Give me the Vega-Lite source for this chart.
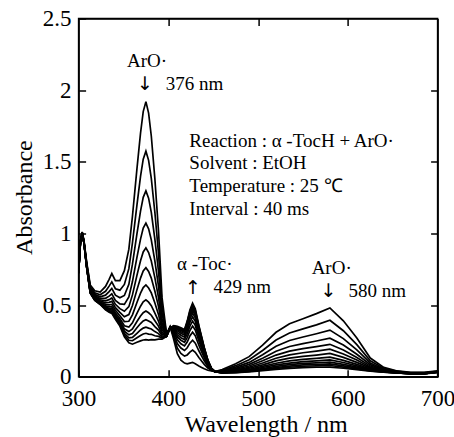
{
"$schema":"https://vega.github.io/schema/vega-lite/v6.json",
"width":359,"height":358.2,
"autosize":{"type":"none"},
"padding":{"left":78.6,"top":18.5,"right":16.4,"bottom":60.3},
"background":"white",
"config":{"view":{"stroke":"black","strokeWidth":1.5},"font":"Liberation Serif","text":{"font":"Liberation Serif","color":"black"}},
"datasets":{
"spectra":[
{"w":300,"t":0,"a":0.75},{"w":300,"t":1,"a":0.744},{"w":300,"t":2,"a":0.739},{"w":300,"t":3,"a":0.735},{"w":300,"t":4,"a":0.732},{"w":300,"t":5,"a":0.73},{"w":300,"t":6,"a":0.728},{"w":300,"t":7,"a":0.726},{"w":300,"t":8,"a":0.725},{"w":300,"t":9,"a":0.724},{"w":300,"t":10,"a":0.723},{"w":300,"t":11,"a":0.722},{"w":300,"t":12,"a":0.721},
{"w":302,"t":0,"a":0.95},{"w":302,"t":1,"a":0.946},{"w":302,"t":2,"a":0.943},{"w":302,"t":3,"a":0.94},{"w":302,"t":4,"a":0.938},{"w":302,"t":5,"a":0.937},{"w":302,"t":6,"a":0.935},{"w":302,"t":7,"a":0.934},{"w":302,"t":8,"a":0.933},{"w":302,"t":9,"a":0.932},{"w":302,"t":10,"a":0.932},{"w":302,"t":11,"a":0.931},{"w":302,"t":12,"a":0.931},
{"w":304,"t":0,"a":1.01},{"w":304,"t":1,"a":1.008},{"w":304,"t":2,"a":1.006},{"w":304,"t":3,"a":1.005},{"w":304,"t":4,"a":1.004},{"w":304,"t":5,"a":1.003},{"w":304,"t":6,"a":1.003},{"w":304,"t":7,"a":1.002},{"w":304,"t":8,"a":1.002},{"w":304,"t":9,"a":1.001},{"w":304,"t":10,"a":1.001},{"w":304,"t":11,"a":1.001},{"w":304,"t":12,"a":1.0},
{"w":306,"t":0,"a":0.95},{"w":306,"t":1,"a":0.946},{"w":306,"t":2,"a":0.943},{"w":306,"t":3,"a":0.94},{"w":306,"t":4,"a":0.938},{"w":306,"t":5,"a":0.937},{"w":306,"t":6,"a":0.935},{"w":306,"t":7,"a":0.934},{"w":306,"t":8,"a":0.933},{"w":306,"t":9,"a":0.932},{"w":306,"t":10,"a":0.932},{"w":306,"t":11,"a":0.931},{"w":306,"t":12,"a":0.931},
{"w":309,"t":0,"a":0.8},{"w":309,"t":1,"a":0.792},{"w":309,"t":2,"a":0.786},{"w":309,"t":3,"a":0.78},{"w":309,"t":4,"a":0.776},{"w":309,"t":5,"a":0.773},{"w":309,"t":6,"a":0.77},{"w":309,"t":7,"a":0.768},{"w":309,"t":8,"a":0.766},{"w":309,"t":9,"a":0.765},{"w":309,"t":10,"a":0.764},{"w":309,"t":11,"a":0.763},{"w":309,"t":12,"a":0.762},
{"w":313,"t":0,"a":0.64},{"w":313,"t":1,"a":0.628},{"w":313,"t":2,"a":0.618},{"w":313,"t":3,"a":0.611},{"w":313,"t":4,"a":0.605},{"w":313,"t":5,"a":0.6},{"w":313,"t":6,"a":0.596},{"w":313,"t":7,"a":0.592},{"w":313,"t":8,"a":0.589},{"w":313,"t":9,"a":0.587},{"w":313,"t":10,"a":0.585},{"w":313,"t":11,"a":0.584},{"w":313,"t":12,"a":0.582},
{"w":318,"t":0,"a":0.6},{"w":318,"t":1,"a":0.586},{"w":318,"t":2,"a":0.575},{"w":318,"t":3,"a":0.566},{"w":318,"t":4,"a":0.559},{"w":318,"t":5,"a":0.553},{"w":318,"t":6,"a":0.548},{"w":318,"t":7,"a":0.544},{"w":318,"t":8,"a":0.541},{"w":318,"t":9,"a":0.538},{"w":318,"t":10,"a":0.536},{"w":318,"t":11,"a":0.535},{"w":318,"t":12,"a":0.533},
{"w":324,"t":0,"a":0.59},{"w":324,"t":1,"a":0.572},{"w":324,"t":2,"a":0.558},{"w":324,"t":3,"a":0.546},{"w":324,"t":4,"a":0.537},{"w":324,"t":5,"a":0.53},{"w":324,"t":6,"a":0.523},{"w":324,"t":7,"a":0.518},{"w":324,"t":8,"a":0.514},{"w":324,"t":9,"a":0.511},{"w":324,"t":10,"a":0.508},{"w":324,"t":11,"a":0.506},{"w":324,"t":12,"a":0.504},
{"w":330,"t":0,"a":0.63},{"w":330,"t":1,"a":0.596},{"w":330,"t":2,"a":0.569},{"w":330,"t":3,"a":0.547},{"w":330,"t":4,"a":0.53},{"w":330,"t":5,"a":0.516},{"w":330,"t":6,"a":0.504},{"w":330,"t":7,"a":0.494},{"w":330,"t":8,"a":0.486},{"w":330,"t":9,"a":0.48},{"w":330,"t":10,"a":0.475},{"w":330,"t":11,"a":0.471},{"w":330,"t":12,"a":0.467},
{"w":334,"t":0,"a":0.68},{"w":334,"t":1,"a":0.632},{"w":334,"t":2,"a":0.594},{"w":334,"t":3,"a":0.562},{"w":334,"t":4,"a":0.538},{"w":334,"t":5,"a":0.519},{"w":334,"t":6,"a":0.502},{"w":334,"t":7,"a":0.488},{"w":334,"t":8,"a":0.477},{"w":334,"t":9,"a":0.469},{"w":334,"t":10,"a":0.462},{"w":334,"t":11,"a":0.456},{"w":334,"t":12,"a":0.45},
{"w":337,"t":0,"a":0.72},{"w":337,"t":1,"a":0.662},{"w":337,"t":2,"a":0.616},{"w":337,"t":3,"a":0.578},{"w":337,"t":4,"a":0.549},{"w":337,"t":5,"a":0.526},{"w":337,"t":6,"a":0.505},{"w":337,"t":7,"a":0.488},{"w":337,"t":8,"a":0.475},{"w":337,"t":9,"a":0.465},{"w":337,"t":10,"a":0.456},{"w":337,"t":11,"a":0.449},{"w":337,"t":12,"a":0.442},
{"w":341,"t":0,"a":0.67},{"w":341,"t":1,"a":0.614},{"w":341,"t":2,"a":0.569},{"w":341,"t":3,"a":0.533},{"w":341,"t":4,"a":0.505},{"w":341,"t":5,"a":0.482},{"w":341,"t":6,"a":0.463},{"w":341,"t":7,"a":0.446},{"w":341,"t":8,"a":0.433},{"w":341,"t":9,"a":0.424},{"w":341,"t":10,"a":0.415},{"w":341,"t":11,"a":0.408},{"w":341,"t":12,"a":0.401},
{"w":346,"t":0,"a":0.67},{"w":346,"t":1,"a":0.604},{"w":346,"t":2,"a":0.551},{"w":346,"t":3,"a":0.508},{"w":346,"t":4,"a":0.475},{"w":346,"t":5,"a":0.449},{"w":346,"t":6,"a":0.426},{"w":346,"t":7,"a":0.406},{"w":346,"t":8,"a":0.391},{"w":346,"t":9,"a":0.38},{"w":346,"t":10,"a":0.37},{"w":346,"t":11,"a":0.362},{"w":346,"t":12,"a":0.353},
{"w":351,"t":0,"a":0.74},{"w":351,"t":1,"a":0.644},{"w":351,"t":2,"a":0.567},{"w":351,"t":3,"a":0.505},{"w":351,"t":4,"a":0.457},{"w":351,"t":5,"a":0.418},{"w":351,"t":6,"a":0.385},{"w":351,"t":7,"a":0.356},{"w":351,"t":8,"a":0.334},{"w":351,"t":9,"a":0.318},{"w":351,"t":10,"a":0.303},{"w":351,"t":11,"a":0.291},{"w":351,"t":12,"a":0.279},
{"w":356,"t":0,"a":0.89},{"w":356,"t":1,"a":0.754},{"w":356,"t":2,"a":0.645},{"w":356,"t":3,"a":0.557},{"w":356,"t":4,"a":0.489},{"w":356,"t":5,"a":0.434},{"w":356,"t":6,"a":0.387},{"w":356,"t":7,"a":0.346},{"w":356,"t":8,"a":0.315},{"w":356,"t":9,"a":0.292},{"w":356,"t":10,"a":0.271},{"w":356,"t":11,"a":0.254},{"w":356,"t":12,"a":0.237},
{"w":360,"t":0,"a":1.12},{"w":360,"t":1,"a":0.934},{"w":360,"t":2,"a":0.785},{"w":360,"t":3,"a":0.664},{"w":360,"t":4,"a":0.571},{"w":360,"t":5,"a":0.497},{"w":360,"t":6,"a":0.432},{"w":360,"t":7,"a":0.376},{"w":360,"t":8,"a":0.334},{"w":360,"t":9,"a":0.302},{"w":360,"t":10,"a":0.274},{"w":360,"t":11,"a":0.251},{"w":360,"t":12,"a":0.227},
{"w":365,"t":0,"a":1.45},{"w":365,"t":1,"a":1.198},{"w":365,"t":2,"a":0.996},{"w":365,"t":3,"a":0.833},{"w":365,"t":4,"a":0.707},{"w":365,"t":5,"a":0.606},{"w":365,"t":6,"a":0.518},{"w":365,"t":7,"a":0.442},{"w":365,"t":8,"a":0.385},{"w":365,"t":9,"a":0.341},{"w":365,"t":10,"a":0.303},{"w":365,"t":11,"a":0.272},{"w":365,"t":12,"a":0.24},
{"w":369,"t":0,"a":1.7},{"w":369,"t":1,"a":1.398},{"w":369,"t":2,"a":1.156},{"w":369,"t":3,"a":0.96},{"w":369,"t":4,"a":0.809},{"w":369,"t":5,"a":0.688},{"w":369,"t":6,"a":0.583},{"w":369,"t":7,"a":0.492},{"w":369,"t":8,"a":0.424},{"w":369,"t":9,"a":0.371},{"w":369,"t":10,"a":0.326},{"w":369,"t":11,"a":0.288},{"w":369,"t":12,"a":0.25},
{"w":372,"t":0,"a":1.85},{"w":372,"t":1,"a":1.518},{"w":372,"t":2,"a":1.252},{"w":372,"t":3,"a":1.037},{"w":372,"t":4,"a":0.871},{"w":372,"t":5,"a":0.738},{"w":372,"t":6,"a":0.622},{"w":372,"t":7,"a":0.522},{"w":372,"t":8,"a":0.447},{"w":372,"t":9,"a":0.389},{"w":372,"t":10,"a":0.339},{"w":372,"t":11,"a":0.298},{"w":372,"t":12,"a":0.256},
{"w":375,"t":0,"a":1.92},{"w":375,"t":1,"a":1.574},{"w":375,"t":2,"a":1.297},{"w":375,"t":3,"a":1.072},{"w":375,"t":4,"a":0.899},{"w":375,"t":5,"a":0.761},{"w":375,"t":6,"a":0.64},{"w":375,"t":7,"a":0.536},{"w":375,"t":8,"a":0.458},{"w":375,"t":9,"a":0.398},{"w":375,"t":10,"a":0.346},{"w":375,"t":11,"a":0.303},{"w":375,"t":12,"a":0.259},
{"w":378,"t":0,"a":1.84},{"w":378,"t":1,"a":1.51},{"w":378,"t":2,"a":1.246},{"w":378,"t":3,"a":1.032},{"w":378,"t":4,"a":0.867},{"w":378,"t":5,"a":0.735},{"w":378,"t":6,"a":0.619},{"w":378,"t":7,"a":0.52},{"w":378,"t":8,"a":0.446},{"w":378,"t":9,"a":0.388},{"w":378,"t":10,"a":0.339},{"w":378,"t":11,"a":0.297},{"w":378,"t":12,"a":0.256},
{"w":381,"t":0,"a":1.68},{"w":381,"t":1,"a":1.384},{"w":381,"t":2,"a":1.147},{"w":381,"t":3,"a":0.955},{"w":381,"t":4,"a":0.807},{"w":381,"t":5,"a":0.688},{"w":381,"t":6,"a":0.585},{"w":381,"t":7,"a":0.496},{"w":381,"t":8,"a":0.429},{"w":381,"t":9,"a":0.378},{"w":381,"t":10,"a":0.333},{"w":381,"t":11,"a":0.296},{"w":381,"t":12,"a":0.259},
{"w":385,"t":0,"a":1.38},{"w":385,"t":1,"a":1.146},{"w":385,"t":2,"a":0.959},{"w":385,"t":3,"a":0.807},{"w":385,"t":4,"a":0.69},{"w":385,"t":5,"a":0.596},{"w":385,"t":6,"a":0.514},{"w":385,"t":7,"a":0.444},{"w":385,"t":8,"a":0.391},{"w":385,"t":9,"a":0.35},{"w":385,"t":10,"a":0.315},{"w":385,"t":11,"a":0.286},{"w":385,"t":12,"a":0.257},
{"w":389,"t":0,"a":1.02},{"w":389,"t":1,"a":0.862},{"w":389,"t":2,"a":0.736},{"w":389,"t":3,"a":0.633},{"w":389,"t":4,"a":0.554},{"w":389,"t":5,"a":0.491},{"w":389,"t":6,"a":0.435},{"w":389,"t":7,"a":0.388},{"w":389,"t":8,"a":0.353},{"w":389,"t":9,"a":0.325},{"w":389,"t":10,"a":0.301},{"w":389,"t":11,"a":0.281},{"w":389,"t":12,"a":0.262},
{"w":393,"t":0,"a":0.55},{"w":393,"t":1,"a":0.49},{"w":393,"t":2,"a":0.442},{"w":393,"t":3,"a":0.403},{"w":393,"t":4,"a":0.373},{"w":393,"t":5,"a":0.349},{"w":393,"t":6,"a":0.328},{"w":393,"t":7,"a":0.31},{"w":393,"t":8,"a":0.297},{"w":393,"t":9,"a":0.286},{"w":393,"t":10,"a":0.277},{"w":393,"t":11,"a":0.27},{"w":393,"t":12,"a":0.262},
{"w":398,"t":0,"a":0.3},{"w":398,"t":1,"a":0.296},{"w":398,"t":2,"a":0.293},{"w":398,"t":3,"a":0.29},{"w":398,"t":4,"a":0.288},{"w":398,"t":5,"a":0.287},{"w":398,"t":6,"a":0.285},{"w":398,"t":7,"a":0.284},{"w":398,"t":8,"a":0.283},{"w":398,"t":9,"a":0.282},{"w":398,"t":10,"a":0.282},{"w":398,"t":11,"a":0.281},{"w":398,"t":12,"a":0.281},
{"w":402,"t":0,"a":0.35},{"w":402,"t":1,"a":0.348},{"w":402,"t":2,"a":0.346},{"w":402,"t":3,"a":0.345},{"w":402,"t":4,"a":0.344},{"w":402,"t":5,"a":0.343},{"w":402,"t":6,"a":0.343},{"w":402,"t":7,"a":0.342},{"w":402,"t":8,"a":0.342},{"w":402,"t":9,"a":0.341},{"w":402,"t":10,"a":0.341},{"w":402,"t":11,"a":0.341},{"w":402,"t":12,"a":0.34},
{"w":406,"t":0,"a":0.26},{"w":406,"t":1,"a":0.28},{"w":406,"t":2,"a":0.296},{"w":406,"t":3,"a":0.309},{"w":406,"t":4,"a":0.319},{"w":406,"t":5,"a":0.327},{"w":406,"t":6,"a":0.334},{"w":406,"t":7,"a":0.34},{"w":406,"t":8,"a":0.345},{"w":406,"t":9,"a":0.348},{"w":406,"t":10,"a":0.351},{"w":406,"t":11,"a":0.354},{"w":406,"t":12,"a":0.356},
{"w":410,"t":0,"a":0.16},{"w":410,"t":1,"a":0.2},{"w":410,"t":2,"a":0.232},{"w":410,"t":3,"a":0.258},{"w":410,"t":4,"a":0.278},{"w":410,"t":5,"a":0.294},{"w":410,"t":6,"a":0.308},{"w":410,"t":7,"a":0.32},{"w":410,"t":8,"a":0.329},{"w":410,"t":9,"a":0.336},{"w":410,"t":10,"a":0.342},{"w":410,"t":11,"a":0.347},{"w":410,"t":12,"a":0.352},
{"w":414,"t":0,"a":0.115},{"w":414,"t":1,"a":0.162},{"w":414,"t":2,"a":0.2},{"w":414,"t":3,"a":0.23},{"w":414,"t":4,"a":0.254},{"w":414,"t":5,"a":0.272},{"w":414,"t":6,"a":0.289},{"w":414,"t":7,"a":0.303},{"w":414,"t":8,"a":0.314},{"w":414,"t":9,"a":0.322},{"w":414,"t":10,"a":0.329},{"w":414,"t":11,"a":0.335},{"w":414,"t":12,"a":0.341},
{"w":418,"t":0,"a":0.095},{"w":418,"t":1,"a":0.144},{"w":418,"t":2,"a":0.183},{"w":418,"t":3,"a":0.215},{"w":418,"t":4,"a":0.24},{"w":418,"t":5,"a":0.259},{"w":418,"t":6,"a":0.276},{"w":418,"t":7,"a":0.291},{"w":418,"t":8,"a":0.302},{"w":418,"t":9,"a":0.311},{"w":418,"t":10,"a":0.318},{"w":418,"t":11,"a":0.324},{"w":418,"t":12,"a":0.33},
{"w":421,"t":0,"a":0.09},{"w":421,"t":1,"a":0.152},{"w":421,"t":2,"a":0.202},{"w":421,"t":3,"a":0.242},{"w":421,"t":4,"a":0.273},{"w":421,"t":5,"a":0.298},{"w":421,"t":6,"a":0.319},{"w":421,"t":7,"a":0.338},{"w":421,"t":8,"a":0.352},{"w":421,"t":9,"a":0.363},{"w":421,"t":10,"a":0.372},{"w":421,"t":11,"a":0.38},{"w":421,"t":12,"a":0.388},
{"w":424,"t":0,"a":0.095},{"w":424,"t":1,"a":0.172},{"w":424,"t":2,"a":0.234},{"w":424,"t":3,"a":0.284},{"w":424,"t":4,"a":0.322},{"w":424,"t":5,"a":0.353},{"w":424,"t":6,"a":0.38},{"w":424,"t":7,"a":0.403},{"w":424,"t":8,"a":0.42},{"w":424,"t":9,"a":0.434},{"w":424,"t":10,"a":0.445},{"w":424,"t":11,"a":0.455},{"w":424,"t":12,"a":0.465},
{"w":427,"t":0,"a":0.1},{"w":427,"t":1,"a":0.186},{"w":427,"t":2,"a":0.255},{"w":427,"t":3,"a":0.311},{"w":427,"t":4,"a":0.354},{"w":427,"t":5,"a":0.388},{"w":427,"t":6,"a":0.418},{"w":427,"t":7,"a":0.444},{"w":427,"t":8,"a":0.463},{"w":427,"t":9,"a":0.478},{"w":427,"t":10,"a":0.491},{"w":427,"t":11,"a":0.502},{"w":427,"t":12,"a":0.513},
{"w":430,"t":0,"a":0.09},{"w":430,"t":1,"a":0.17},{"w":430,"t":2,"a":0.234},{"w":430,"t":3,"a":0.286},{"w":430,"t":4,"a":0.326},{"w":430,"t":5,"a":0.358},{"w":430,"t":6,"a":0.386},{"w":430,"t":7,"a":0.41},{"w":430,"t":8,"a":0.428},{"w":430,"t":9,"a":0.442},{"w":430,"t":10,"a":0.454},{"w":430,"t":11,"a":0.464},{"w":430,"t":12,"a":0.474},
{"w":434,"t":0,"a":0.075},{"w":434,"t":1,"a":0.134},{"w":434,"t":2,"a":0.181},{"w":434,"t":3,"a":0.22},{"w":434,"t":4,"a":0.249},{"w":434,"t":5,"a":0.273},{"w":434,"t":6,"a":0.293},{"w":434,"t":7,"a":0.311},{"w":434,"t":8,"a":0.324},{"w":434,"t":9,"a":0.335},{"w":434,"t":10,"a":0.343},{"w":434,"t":11,"a":0.351},{"w":434,"t":12,"a":0.358},
{"w":437,"t":0,"a":0.065},{"w":437,"t":1,"a":0.11},{"w":437,"t":2,"a":0.146},{"w":437,"t":3,"a":0.175},{"w":437,"t":4,"a":0.198},{"w":437,"t":5,"a":0.216},{"w":437,"t":6,"a":0.232},{"w":437,"t":7,"a":0.245},{"w":437,"t":8,"a":0.255},{"w":437,"t":9,"a":0.263},{"w":437,"t":10,"a":0.27},{"w":437,"t":11,"a":0.275},{"w":437,"t":12,"a":0.281},
{"w":440,"t":0,"a":0.055},{"w":440,"t":1,"a":0.086},{"w":440,"t":2,"a":0.111},{"w":440,"t":3,"a":0.131},{"w":440,"t":4,"a":0.146},{"w":440,"t":5,"a":0.159},{"w":440,"t":6,"a":0.17},{"w":440,"t":7,"a":0.179},{"w":440,"t":8,"a":0.186},{"w":440,"t":9,"a":0.191},{"w":440,"t":10,"a":0.196},{"w":440,"t":11,"a":0.2},{"w":440,"t":12,"a":0.204},
{"w":444,"t":0,"a":0.045},{"w":444,"t":1,"a":0.06},{"w":444,"t":2,"a":0.072},{"w":444,"t":3,"a":0.082},{"w":444,"t":4,"a":0.089},{"w":444,"t":5,"a":0.095},{"w":444,"t":6,"a":0.101},{"w":444,"t":7,"a":0.105},{"w":444,"t":8,"a":0.108},{"w":444,"t":9,"a":0.111},{"w":444,"t":10,"a":0.113},{"w":444,"t":11,"a":0.115},{"w":444,"t":12,"a":0.117},
{"w":448,"t":0,"a":0.04},{"w":448,"t":1,"a":0.044},{"w":448,"t":2,"a":0.047},{"w":448,"t":3,"a":0.05},{"w":448,"t":4,"a":0.052},{"w":448,"t":5,"a":0.053},{"w":448,"t":6,"a":0.055},{"w":448,"t":7,"a":0.056},{"w":448,"t":8,"a":0.057},{"w":448,"t":9,"a":0.058},{"w":448,"t":10,"a":0.058},{"w":448,"t":11,"a":0.059},{"w":448,"t":12,"a":0.059},
{"w":452,"t":0,"a":0.035},{"w":452,"t":1,"a":0.035},{"w":452,"t":2,"a":0.035},{"w":452,"t":3,"a":0.035},{"w":452,"t":4,"a":0.035},{"w":452,"t":5,"a":0.035},{"w":452,"t":6,"a":0.035},{"w":452,"t":7,"a":0.035},{"w":452,"t":8,"a":0.035},{"w":452,"t":9,"a":0.035},{"w":452,"t":10,"a":0.035},{"w":452,"t":11,"a":0.035},{"w":452,"t":12,"a":0.035},
{"w":460,"t":0,"a":0.05},{"w":460,"t":1,"a":0.045},{"w":460,"t":2,"a":0.041},{"w":460,"t":3,"a":0.038},{"w":460,"t":4,"a":0.035},{"w":460,"t":5,"a":0.033},{"w":460,"t":6,"a":0.032},{"w":460,"t":7,"a":0.03},{"w":460,"t":8,"a":0.029},{"w":460,"t":9,"a":0.028},{"w":460,"t":10,"a":0.027},{"w":460,"t":11,"a":0.027},{"w":460,"t":12,"a":0.026},
{"w":475,"t":0,"a":0.09},{"w":475,"t":1,"a":0.077},{"w":475,"t":2,"a":0.067},{"w":475,"t":3,"a":0.058},{"w":475,"t":4,"a":0.052},{"w":475,"t":5,"a":0.047},{"w":475,"t":6,"a":0.042},{"w":475,"t":7,"a":0.038},{"w":475,"t":8,"a":0.035},{"w":475,"t":9,"a":0.033},{"w":475,"t":10,"a":0.031},{"w":475,"t":11,"a":0.029},{"w":475,"t":12,"a":0.028},
{"w":490,"t":0,"a":0.14},{"w":490,"t":1,"a":0.118},{"w":490,"t":2,"a":0.1},{"w":490,"t":3,"a":0.086},{"w":490,"t":4,"a":0.075},{"w":490,"t":5,"a":0.066},{"w":490,"t":6,"a":0.059},{"w":490,"t":7,"a":0.052},{"w":490,"t":8,"a":0.047},{"w":490,"t":9,"a":0.043},{"w":490,"t":10,"a":0.04},{"w":490,"t":11,"a":0.037},{"w":490,"t":12,"a":0.034},
{"w":505,"t":0,"a":0.22},{"w":505,"t":1,"a":0.183},{"w":505,"t":2,"a":0.153},{"w":505,"t":3,"a":0.129},{"w":505,"t":4,"a":0.111},{"w":505,"t":5,"a":0.096},{"w":505,"t":6,"a":0.083},{"w":505,"t":7,"a":0.072},{"w":505,"t":8,"a":0.064},{"w":505,"t":9,"a":0.057},{"w":505,"t":10,"a":0.052},{"w":505,"t":11,"a":0.047},{"w":505,"t":12,"a":0.042},
{"w":520,"t":0,"a":0.31},{"w":520,"t":1,"a":0.256},{"w":520,"t":2,"a":0.213},{"w":520,"t":3,"a":0.178},{"w":520,"t":4,"a":0.151},{"w":520,"t":5,"a":0.129},{"w":520,"t":6,"a":0.11},{"w":520,"t":7,"a":0.094},{"w":520,"t":8,"a":0.082},{"w":520,"t":9,"a":0.072},{"w":520,"t":10,"a":0.064},{"w":520,"t":11,"a":0.058},{"w":520,"t":12,"a":0.051},
{"w":535,"t":0,"a":0.37},{"w":535,"t":1,"a":0.305},{"w":535,"t":2,"a":0.253},{"w":535,"t":3,"a":0.211},{"w":535,"t":4,"a":0.178},{"w":535,"t":5,"a":0.152},{"w":535,"t":6,"a":0.13},{"w":535,"t":7,"a":0.11},{"w":535,"t":8,"a":0.095},{"w":535,"t":9,"a":0.084},{"w":535,"t":10,"a":0.074},{"w":535,"t":11,"a":0.066},{"w":535,"t":12,"a":0.058},
{"w":550,"t":0,"a":0.405},{"w":550,"t":1,"a":0.334},{"w":550,"t":2,"a":0.277},{"w":550,"t":3,"a":0.231},{"w":550,"t":4,"a":0.196},{"w":550,"t":5,"a":0.167},{"w":550,"t":6,"a":0.142},{"w":550,"t":7,"a":0.121},{"w":550,"t":8,"a":0.105},{"w":550,"t":9,"a":0.093},{"w":550,"t":10,"a":0.082},{"w":550,"t":11,"a":0.073},{"w":550,"t":12,"a":0.064},
{"w":565,"t":0,"a":0.44},{"w":565,"t":1,"a":0.362},{"w":565,"t":2,"a":0.3},{"w":565,"t":3,"a":0.249},{"w":565,"t":4,"a":0.21},{"w":565,"t":5,"a":0.179},{"w":565,"t":6,"a":0.151},{"w":565,"t":7,"a":0.128},{"w":565,"t":8,"a":0.111},{"w":565,"t":9,"a":0.097},{"w":565,"t":10,"a":0.085},{"w":565,"t":11,"a":0.075},{"w":565,"t":12,"a":0.066},
{"w":580,"t":0,"a":0.48},{"w":580,"t":1,"a":0.394},{"w":580,"t":2,"a":0.325},{"w":580,"t":3,"a":0.269},{"w":580,"t":4,"a":0.226},{"w":580,"t":5,"a":0.192},{"w":580,"t":6,"a":0.162},{"w":580,"t":7,"a":0.136},{"w":580,"t":8,"a":0.117},{"w":580,"t":9,"a":0.102},{"w":580,"t":10,"a":0.089},{"w":580,"t":11,"a":0.078},{"w":580,"t":12,"a":0.067},
{"w":595,"t":0,"a":0.39},{"w":595,"t":1,"a":0.321},{"w":595,"t":2,"a":0.266},{"w":595,"t":3,"a":0.221},{"w":595,"t":4,"a":0.187},{"w":595,"t":5,"a":0.159},{"w":595,"t":6,"a":0.135},{"w":595,"t":7,"a":0.114},{"w":595,"t":8,"a":0.099},{"w":595,"t":9,"a":0.086},{"w":595,"t":10,"a":0.076},{"w":595,"t":11,"a":0.067},{"w":595,"t":12,"a":0.059},
{"w":610,"t":0,"a":0.27},{"w":610,"t":1,"a":0.224},{"w":610,"t":2,"a":0.187},{"w":610,"t":3,"a":0.157},{"w":610,"t":4,"a":0.134},{"w":610,"t":5,"a":0.116},{"w":610,"t":6,"a":0.1},{"w":610,"t":7,"a":0.086},{"w":610,"t":8,"a":0.076},{"w":610,"t":9,"a":0.068},{"w":610,"t":10,"a":0.061},{"w":610,"t":11,"a":0.055},{"w":610,"t":12,"a":0.049},
{"w":625,"t":0,"a":0.13},{"w":625,"t":1,"a":0.111},{"w":625,"t":2,"a":0.096},{"w":625,"t":3,"a":0.084},{"w":625,"t":4,"a":0.074},{"w":625,"t":5,"a":0.066},{"w":625,"t":6,"a":0.06},{"w":625,"t":7,"a":0.054},{"w":625,"t":8,"a":0.05},{"w":625,"t":9,"a":0.046},{"w":625,"t":10,"a":0.044},{"w":625,"t":11,"a":0.041},{"w":625,"t":12,"a":0.039},
{"w":640,"t":0,"a":0.065},{"w":640,"t":1,"a":0.058},{"w":640,"t":2,"a":0.052},{"w":640,"t":3,"a":0.048},{"w":640,"t":4,"a":0.044},{"w":640,"t":5,"a":0.042},{"w":640,"t":6,"a":0.039},{"w":640,"t":7,"a":0.037},{"w":640,"t":8,"a":0.035},{"w":640,"t":9,"a":0.034},{"w":640,"t":10,"a":0.033},{"w":640,"t":11,"a":0.032},{"w":640,"t":12,"a":0.031},
{"w":655,"t":0,"a":0.04},{"w":655,"t":1,"a":0.037},{"w":655,"t":2,"a":0.035},{"w":655,"t":3,"a":0.033},{"w":655,"t":4,"a":0.031},{"w":655,"t":5,"a":0.03},{"w":655,"t":6,"a":0.029},{"w":655,"t":7,"a":0.028},{"w":655,"t":8,"a":0.027},{"w":655,"t":9,"a":0.027},{"w":655,"t":10,"a":0.026},{"w":655,"t":11,"a":0.026},{"w":655,"t":12,"a":0.026},
{"w":670,"t":0,"a":0.03},{"w":670,"t":1,"a":0.028},{"w":670,"t":2,"a":0.026},{"w":670,"t":3,"a":0.025},{"w":670,"t":4,"a":0.024},{"w":670,"t":5,"a":0.023},{"w":670,"t":6,"a":0.023},{"w":670,"t":7,"a":0.022},{"w":670,"t":8,"a":0.022},{"w":670,"t":9,"a":0.021},{"w":670,"t":10,"a":0.021},{"w":670,"t":11,"a":0.021},{"w":670,"t":12,"a":0.02},
{"w":685,"t":0,"a":0.03},{"w":685,"t":1,"a":0.028},{"w":685,"t":2,"a":0.026},{"w":685,"t":3,"a":0.025},{"w":685,"t":4,"a":0.024},{"w":685,"t":5,"a":0.023},{"w":685,"t":6,"a":0.023},{"w":685,"t":7,"a":0.022},{"w":685,"t":8,"a":0.022},{"w":685,"t":9,"a":0.021},{"w":685,"t":10,"a":0.021},{"w":685,"t":11,"a":0.021},{"w":685,"t":12,"a":0.02},
{"w":700,"t":0,"a":0.04},{"w":700,"t":1,"a":0.038},{"w":700,"t":2,"a":0.036},{"w":700,"t":3,"a":0.035},{"w":700,"t":4,"a":0.034},{"w":700,"t":5,"a":0.033},{"w":700,"t":6,"a":0.033},{"w":700,"t":7,"a":0.032},{"w":700,"t":8,"a":0.032},{"w":700,"t":9,"a":0.031},{"w":700,"t":10,"a":0.031},{"w":700,"t":11,"a":0.031},{"w":700,"t":12,"a":0.03}
],
"notesC":[
{"w":376.3,"a":2.159,"label":"ArO·"},
{"w":582,"a":0.717,"label":"ArO·"}
],
"arrows":[
{"w":374,"a":2.043,"label":"↓"},
{"w":427.5,"a":0.619,"label":"↑"},
{"w":578.4,"a":0.6,"label":"↓"}
],
"notesL":[
{"w":397.1,"a":2.0,"label":"376 nm"},
{"w":409.7,"a":0.745,"label":"α -Toc·"},
{"w":450.2,"a":0.584,"label":"429 nm"},
{"w":600.7,"a":0.558,"label":"580 nm"},
{"w":423.4,"a":1.605,"label":"Reaction :  α -TocH + ArO·"},
{"w":423.4,"a":1.449,"label":"Solvent : EtOH"},
{"w":423.4,"a":1.287,"label":"Temperature : 25 ℃"},
{"w":423.4,"a":1.128,"label":"Interval : 40 ms"}
],
"titlesX":[{"w":508.9,"a":-0.386,"label":"Wavelength / nm"}],
"titlesY":[{"w":247.7,"a":1.25,"label":"Absorbance"}]
},
"layer":[
{"data":{"name":"spectra"},
 "mark":{"type":"line","color":"black","strokeWidth":1.7,"clip":true},
 "encoding":{
  "x":{"field":"w","type":"quantitative","scale":{"domain":[300,700],"nice":false,"zero":false},
   "axis":{"orient":"bottom","values":[300,400,500,600,700],"grid":false,"tickSize":-7,"tickWidth":1.5,"tickColor":"black","domainColor":"black","domainWidth":1.5,
    "labelFont":"Times New Roman","labelFontSize":23,"labelColor":"black","labelPadding":18,"labelFlush":false,"labelOverlap":false,"labelBound":false,
    "title":null}},
  "y":{"field":"a","type":"quantitative","scale":{"domain":[0,2.5],"nice":false},
   "axis":{"orient":"left","values":[0,0.5,1,1.5,2,2.5],"format":"~g","grid":false,"tickSize":-7,"tickWidth":1.5,"tickColor":"black","domainColor":"black","domainWidth":1.5,
    "labelFont":"Times New Roman","labelFontSize":23,"labelColor":"black","labelPadding":14.5,"labelFlush":false,"labelOverlap":false,"labelBound":false,
    "title":null}},
  "detail":{"field":"t","type":"nominal"}
 }},
{"data":{"name":"spectra"},
 "mark":{"type":"line","opacity":0},
 "encoding":{
  "x":{"field":"w","type":"quantitative","axis":{"orient":"top","values":[400,500,600],"labels":false,"title":null,"grid":false,"tickSize":-7,"tickWidth":1.5,"tickColor":"black","domainColor":"black","domainWidth":1.5}},
  "y":{"field":"a","type":"quantitative","axis":{"orient":"right","values":[0.5,1,1.5,2],"labels":false,"title":null,"grid":false,"tickSize":-7,"tickWidth":1.5,"tickColor":"black","domainColor":"black","domainWidth":1.5}},
  "detail":{"field":"t","type":"nominal"}
 }},
{"data":{"name":"notesC"},
 "mark":{"type":"text","align":"center","baseline":"alphabetic","fontSize":19,"font":"Liberation Serif","color":"black"},
 "encoding":{"x":{"field":"w","type":"quantitative","axis":null},"y":{"field":"a","type":"quantitative","axis":null},"text":{"field":"label"}}},
{"data":{"name":"arrows"},
 "mark":{"type":"text","align":"center","baseline":"middle","fontSize":19,"font":"DejaVu Sans","color":"black"},
 "encoding":{"x":{"field":"w","type":"quantitative","axis":null},"y":{"field":"a","type":"quantitative","axis":null},"text":{"field":"label"}}},
{"data":{"name":"notesL"},
 "mark":{"type":"text","align":"left","baseline":"alphabetic","fontSize":19,"font":"Liberation Serif","color":"black"},
 "encoding":{"x":{"field":"w","type":"quantitative","axis":null},"y":{"field":"a","type":"quantitative","axis":null},"text":{"field":"label"}}},
{"data":{"name":"titlesX"},
 "mark":{"type":"text","align":"center","baseline":"alphabetic","fontSize":24,"font":"Liberation Serif","color":"black","clip":false},
 "encoding":{"x":{"field":"w","type":"quantitative","axis":null},"y":{"field":"a","type":"quantitative","axis":null},"text":{"field":"label"}}},
{"data":{"name":"titlesY"},
 "mark":{"type":"text","align":"center","baseline":"alphabetic","angle":270,"fontSize":24,"font":"Liberation Serif","color":"black","clip":false},
 "encoding":{"x":{"field":"w","type":"quantitative","axis":null},"y":{"field":"a","type":"quantitative","axis":null},"text":{"field":"label"}}}
],
"resolve":{"axis":{"x":"independent","y":"independent"}}
}
